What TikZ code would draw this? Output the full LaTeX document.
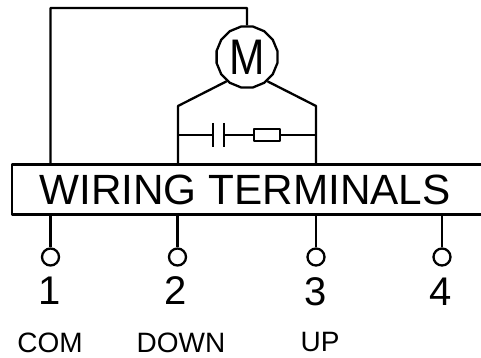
\documentclass[tikz,border=0pt]{standalone}
\usepackage{fontspec}
\setmainfont{Liberation Sans}
\usepackage{graphicx}
\usepackage{tikz}
\usetikzlibrary{shapes.geometric}

\begin{document}
\begin{tikzpicture}
[-,x=1pt,y=-1pt,line width=2.3pt,line join=round,%
  terminal/.style={shape=circle,draw,inner sep=0pt,minimum size=17pt},%
  digit/.style={font=\fontsize{40}{40}\selectfont,inner sep=0pt},%
  caption/.style={font=\fontsize{28}{28}\selectfont,inner sep=0pt}]
\useasboundingbox (0,0) rectangle (481,358);
% motor
\node[shape=regular polygon,regular polygon sides=16,draw,inner sep=0pt,minimum size=62pt,
  font=\fontsize{50}{50}\selectfont] (motor) at (247,57) {\scalebox{0.85}[1]{M}};
% terminal strip
\node[inner sep=0pt,font=\fontsize{42.3}{43}\selectfont] (strip) at (245,189.5) {WIRING TERMINALS};
\node[terminal] (t1) at (50.5,257) {};
\node[terminal] (t2) at (177.5,257) {};
\node[terminal] (t3) at (316,257) {};
\node[terminal] (t4) at (442,257) {};
\node[digit] (n1) at (50,291) {1};
\node[digit] (n2) at (176,291) {2};
\node[digit] (n3) at (316,292) {3};
\node[digit] (n4) at (441,292) {4};
\node[caption] (com) at (50,343) {COM};
\node[caption] (down) at (181,343) {DOWN};
\node[caption] (up) at (320,342) {UP};
% capacitor and resistor
\node[draw,inner sep=0pt,minimum width=26pt,minimum height=12pt] (res) at (267,135) {};
\coordinate (top) at (247,8);
\coordinate (corner) at (50.5,8);
\coordinate (a) at (178,106);
\coordinate (b) at (316,106);
\coordinate (c) at (178,135);
\coordinate (d) at (316,135);
\coordinate (p1) at (213,135);
\coordinate (p2) at (224,135);
\coordinate (p1a) at (213,123);
\coordinate (p1b) at (213,147);
\coordinate (p2a) at (224,123);
\coordinate (p2b) at (224,147);
\coordinate (sa) at (50.5,164.5);
\coordinate (sb) at (178,164.5);
\coordinate (sc) at (316,164.5);
\coordinate (ba) at (50.5,214.5);
\coordinate (bb) at (177.5,214.5);
\coordinate (bc) at (316,214.5);
\coordinate (bd) at (442,214.5);
\coordinate (nw) at (12,164.5);
\coordinate (ne) at (481,164.5);
\coordinate (sw) at (12,214.5);
\coordinate (se) at (481,214.5);
\draw (ne) -- (nw) -- (sw) -- (se);
\draw (motor.north) -- (top) -- (corner) -- (sa);
\draw (motor.-130) -- (a) -- (sb);
\draw (motor.-50) -- (b) -- (sc);
\draw (c) -- (p1);
\draw (p1a) -- (p1b);
\draw (p2a) -- (p2b);
\draw (p2) -- (res);
\draw (res) -- (d);
\draw (ba) -- (t1);
\draw (bb) -- (t2);
\draw (bc) -- (t3);
\draw (bd) -- (t4);
\end{tikzpicture}
\end{document}
